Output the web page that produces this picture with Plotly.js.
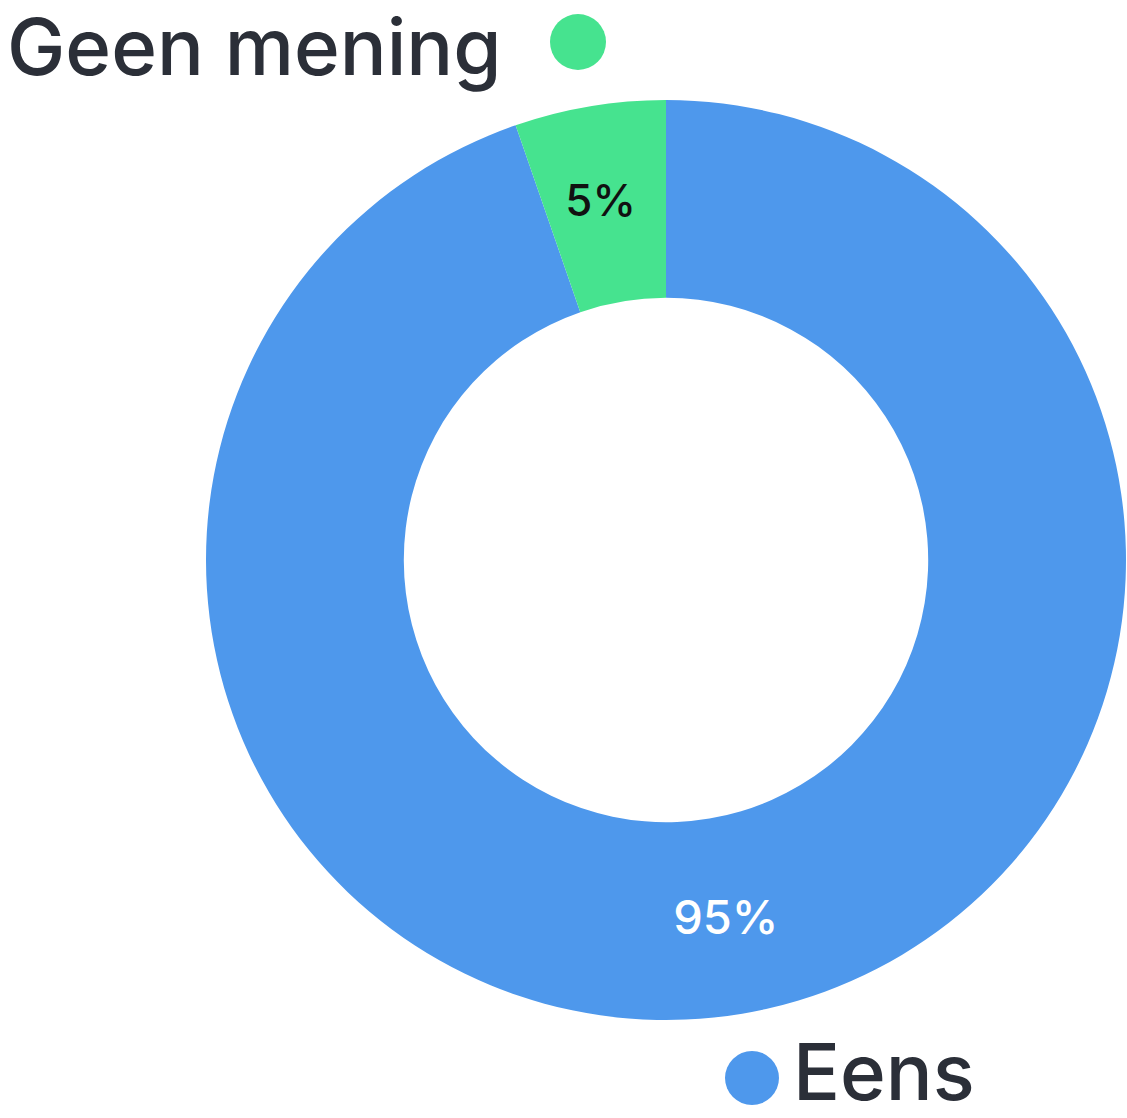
<!DOCTYPE html>
<html>
<head>
<meta charset="utf-8">
<script src="https://cdn.plot.ly/plotly-3.0.1.min.js"></script>
<style>html,body{margin:0;padding:0;background:#fff;}#chart{width:1127px;height:1118px;}</style>
</head>
<body>
<div id="chart"></div>
<script>
const labels = ["Eens", "Geen mening"];
const values = [94.7, 5.3];
const colors = ["#4E98EC", "#46E38F"];
const textColors = ["#ffffff", "#111111"];
// a blank first line lowers the small slice's label towards the ring's middle
const textTemplates = ["%{percent:.0%}", " <br>%{percent:.0%}"];

const W = 1127, H = 1118;
const cx = 666, cy = 560, R = 460;

const trace = {
  type: "pie",
  labels: labels,
  values: values,
  sort: false,
  direction: "clockwise",
  hole: 0.57,
  marker: {colors: colors, line: {width: 0}},
  texttemplate: textTemplates,
  textposition: "inside",
  insidetextorientation: "horizontal",
  insidetextfont: {family: "Inter, 'Open Sans', sans-serif", size: 47, color: textColors, weight: 500},
  showlegend: false,
  hoverinfo: "label+percent",
  domain: {
    x: [(cx - R) / W, (cx + R) / W],
    y: [(H - cy - R) / H, (H - cy + R) / H]
  }
};

const labelFont = {family: "Inter, 'Open Sans', sans-serif", size: 78, color: "#2B2F38", weight: 500};

const layout = {
  width: W, height: H,
  margin: {l: 0, r: 0, t: 0, b: 0},
  paper_bgcolor: "#ffffff",
  plot_bgcolor: "#ffffff",
  showlegend: false,
  annotations: [
    {xref: "paper", yref: "paper", x: 6 / W, y: (H - 46) / H, xanchor: "left", yanchor: "middle",
     text: labels[1], showarrow: false, font: labelFont, borderpad: 0},
    {xref: "paper", yref: "paper", x: 792 / W, y: (H - 1071) / H, xanchor: "left", yanchor: "middle",
     text: labels[0], showarrow: false, font: labelFont, borderpad: 0}
  ],
  shapes: [
    {type: "circle", xref: "paper", yref: "paper", xsizemode: "pixel", ysizemode: "pixel",
     xanchor: 578 / W, yanchor: (H - 42) / H, x0: -28, x1: 28, y0: -28, y1: 28,
     fillcolor: colors[1], line: {width: 0}},
    {type: "circle", xref: "paper", yref: "paper", xsizemode: "pixel", ysizemode: "pixel",
     xanchor: 752 / W, yanchor: (H - 1078) / H, x0: -27, x1: 27, y0: -27, y1: 27,
     fillcolor: colors[0], line: {width: 0}}
  ]
};

Plotly.newPlot("chart", [trace], layout, {displayModeBar: false, staticPlot: true});
</script>
</body>
</html>
